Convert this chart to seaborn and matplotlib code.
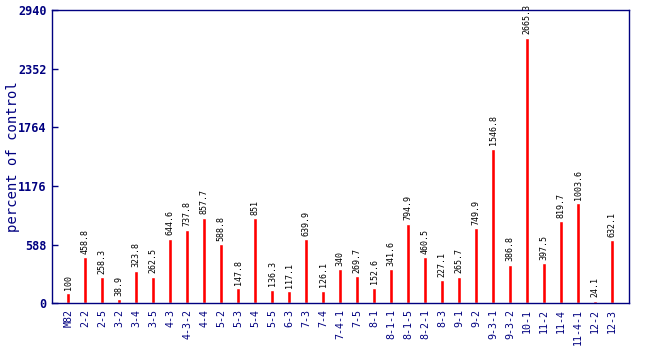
import matplotlib
matplotlib.use("Agg")
import matplotlib.pyplot as plt
import seaborn as sns
import pandas as pd

categories = ["M82", "2-2", "2-5", "3-2", "3-4", "3-5", "4-3", "4-3-2", "4-4", "5-2",
              "5-3", "5-4", "5-5", "6-3", "7-3", "7-4", "7-4-1", "7-5", "8-1", "8-1-1",
              "8-1-5", "8-2-1", "8-3", "9-1", "9-2", "9-3-1", "9-3-2", "10-1", "11-2",
              "11-4", "11-4-1", "12-2", "12-3"]
values = [100, 458.8, 258.3, 38.9, 323.8, 262.5, 644.6, 737.8, 857.7, 588.8,
          147.8, 851, 136.3, 117.1, 639.9, 126.1, 340, 269.7, 152.6, 341.6,
          794.9, 460.5, 227.1, 265.7, 749.9, 1546.8, 386.8, 2665.3, 397.5,
          819.7, 1003.6, 24.1, 632.1]
labels = ["100", "458.8", "258.3", "38.9", "323.8", "262.5", "644.6", "737.8", "857.7", "588.8",
          "147.8", "851", "136.3", "117.1", "639.9", "126.1", "340", "269.7", "152.6", "341.6",
          "794.9", "460.5", "227.1", "265.7", "749.9", "1546.8", "386.8", "2665.3", "397.5",
          "819.7", "1003.6", "24.1", "632.1"]
yticks = [0, 588, 1176, 1764, 2352, 2940]

sns.set_style("white")
plt.rcParams['font.family'] = ['DejaVu Sans Mono', 'DejaVu Sans']

navy = "#000080"
df = pd.DataFrame({"cat": categories, "val": values})

fig = plt.figure(figsize=(6.5, 3.5), dpi=100)
ax = fig.add_axes([0.08, 0.134, 0.888, 0.837])
sns.barplot(data=df, x="cat", y="val", color="#ff0000", saturation=1, width=0.25, ax=ax)

for i, (v, lab) in enumerate(zip(values, labels)):
    ax.text(i, v + 35, lab, rotation=90, ha="center", va="bottom", fontsize=6, color="black")

ax.set_xlim(-0.95, 33.0)
ax.set_ylim(0, 2940)
ax.set_yticks(yticks)
ax.set_yticklabels([str(t) for t in yticks], fontsize=8.5, fontweight="bold", color=navy)
ax.set_xticks(range(len(categories)))
ax.set_xticklabels(categories, rotation=90, fontsize=7.2, color=navy)
ax.tick_params(axis="x", length=0, pad=4)
ax.tick_params(axis="y", length=4, color=navy, width=1, left=True, direction="in", pad=4)
ax.set_xlabel("")
ax.set_ylabel("percent of control", fontsize=10, color=navy)
ax.yaxis.set_label_coords(-0.056, 0.5)
for s in ax.spines.values():
    s.set_color(navy)
    s.set_linewidth(1)
    s.set_visible(True)

fig.savefig("out.png", dpi=100)
